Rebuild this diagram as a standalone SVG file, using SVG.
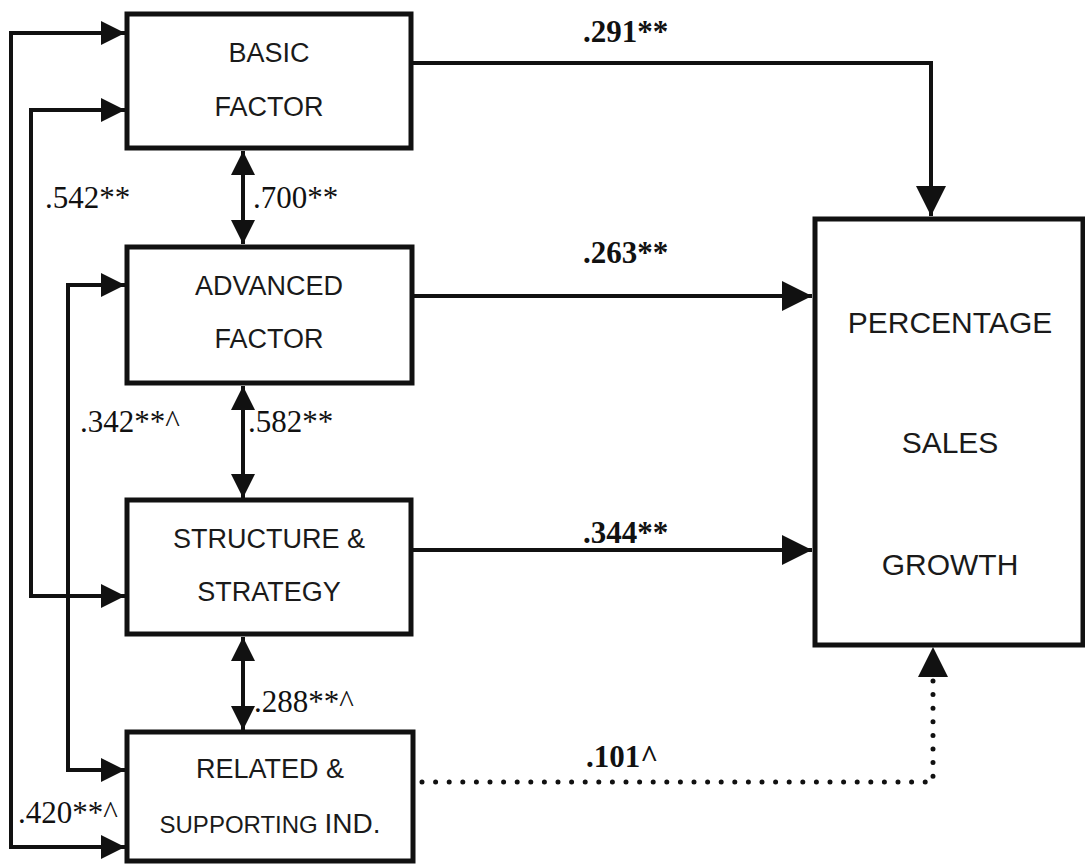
<svg xmlns="http://www.w3.org/2000/svg" width="1085" height="866" viewBox="0 0 1085 866">
<style>
.box{fill:#fff;stroke:#111;stroke-width:5}
.lbl{font-family:"Liberation Sans",Arial,sans-serif;font-size:27px;fill:#1a1a1a;text-anchor:middle}
.big{font-size:30px}
.num{font-family:"Liberation Serif","Times New Roman",serif;font-size:31px;fill:#111}
.bold{font-weight:bold;font-size:31px}
.ln{fill:none;stroke:#111;stroke-width:4}
.dot{fill:none;stroke:#111;stroke-width:5;stroke-linecap:round;stroke-dasharray:0 13.6}
</style>
<defs>
<marker id="a" markerUnits="userSpaceOnUse" markerWidth="24" markerHeight="24" refX="24" refY="12" orient="auto-start-reverse" viewBox="0 0 24 24">
<path d="M0,0 L24,12 L0,24 z" fill="#111"/>
</marker>
<marker id="b" markerUnits="userSpaceOnUse" markerWidth="30" markerHeight="30" refX="30" refY="15" orient="auto-start-reverse" viewBox="0 0 30 30">
<path d="M0,0 L30,15 L0,30 z" fill="#111"/>
</marker>
</defs>
<rect width="1085" height="866" fill="#fff"/>
<g id="connectors">
<path class="ln" d="M125,33 H11 V847 H125" marker-start="url(#a)" marker-end="url(#a)"/>
<path class="ln" d="M125,110 H31 V596 H125" marker-start="url(#a)" marker-end="url(#a)"/>
<path class="ln" d="M125,285 H68 V770 H125" marker-start="url(#a)" marker-end="url(#a)"/>
<path class="ln" d="M243,151 V244" marker-start="url(#a)" marker-end="url(#a)"/>
<path class="ln" d="M243,386 V498" marker-start="url(#a)" marker-end="url(#a)"/>
<path class="ln" d="M243,637 V730" marker-start="url(#a)" marker-end="url(#a)"/>
<path class="ln" d="M411,63 H931 V216" marker-end="url(#b)"/>
<path class="ln" d="M412,296 H812" marker-end="url(#b)"/>
<path class="ln" d="M410,550 H812" marker-end="url(#b)"/>
<path class="dot" d="M422,782 H933 V680"/>
<path d="M918,677 L933,647 L948,677 z" fill="#111"/>
<text class="num" x="45" y="208">.542**</text>
<text class="num" x="253" y="208">.700**</text>
<text class="num" x="80" y="432">.342**^</text>
<text class="num" x="248" y="432">.582**</text>
<text class="num" x="254" y="712">.288**^</text>
<text class="num" x="18" y="823">.420**^</text>
<text class="num bold" x="583" y="42">.291**</text>
<text class="num bold" x="583" y="263">.263**</text>
<text class="num bold" x="583" y="543">.344**</text>
<text class="num bold" x="586" y="767">.101^</text>
</g>
<g id="basic">
<rect class="box" x="127" y="14" width="284" height="134"/>
<text class="lbl" x="269" y="62">BASIC</text>
<text class="lbl" x="269" y="116">FACTOR</text>
</g>
<g id="advanced">
<rect class="box" x="127" y="247" width="285" height="136"/>
<text class="lbl" x="269" y="295">ADVANCED</text>
<text class="lbl" x="269" y="348">FACTOR</text>
</g>
<g id="structure">
<rect class="box" x="127" y="500" width="284" height="134"/>
<text class="lbl" x="269" y="548">STRUCTURE &amp;</text>
<text class="lbl" x="269" y="601">STRATEGY</text>
</g>
<g id="related">
<rect class="box" x="127" y="732" width="286" height="129"/>
<text class="lbl" x="270" y="778">RELATED &amp;</text>
<text class="lbl" x="270" y="833"><tspan font-size="24">SUPPORTING </tspan><tspan font-size="28">IND.</tspan></text>
</g>
<g id="growth">
<rect class="box" x="815" y="219" width="268" height="426"/>
<text class="lbl big" x="950" y="333">PERCENTAGE</text>
<text class="lbl big" x="950" y="453">SALES</text>
<text class="lbl big" x="950" y="575">GROWTH</text>
</g>
</svg>
